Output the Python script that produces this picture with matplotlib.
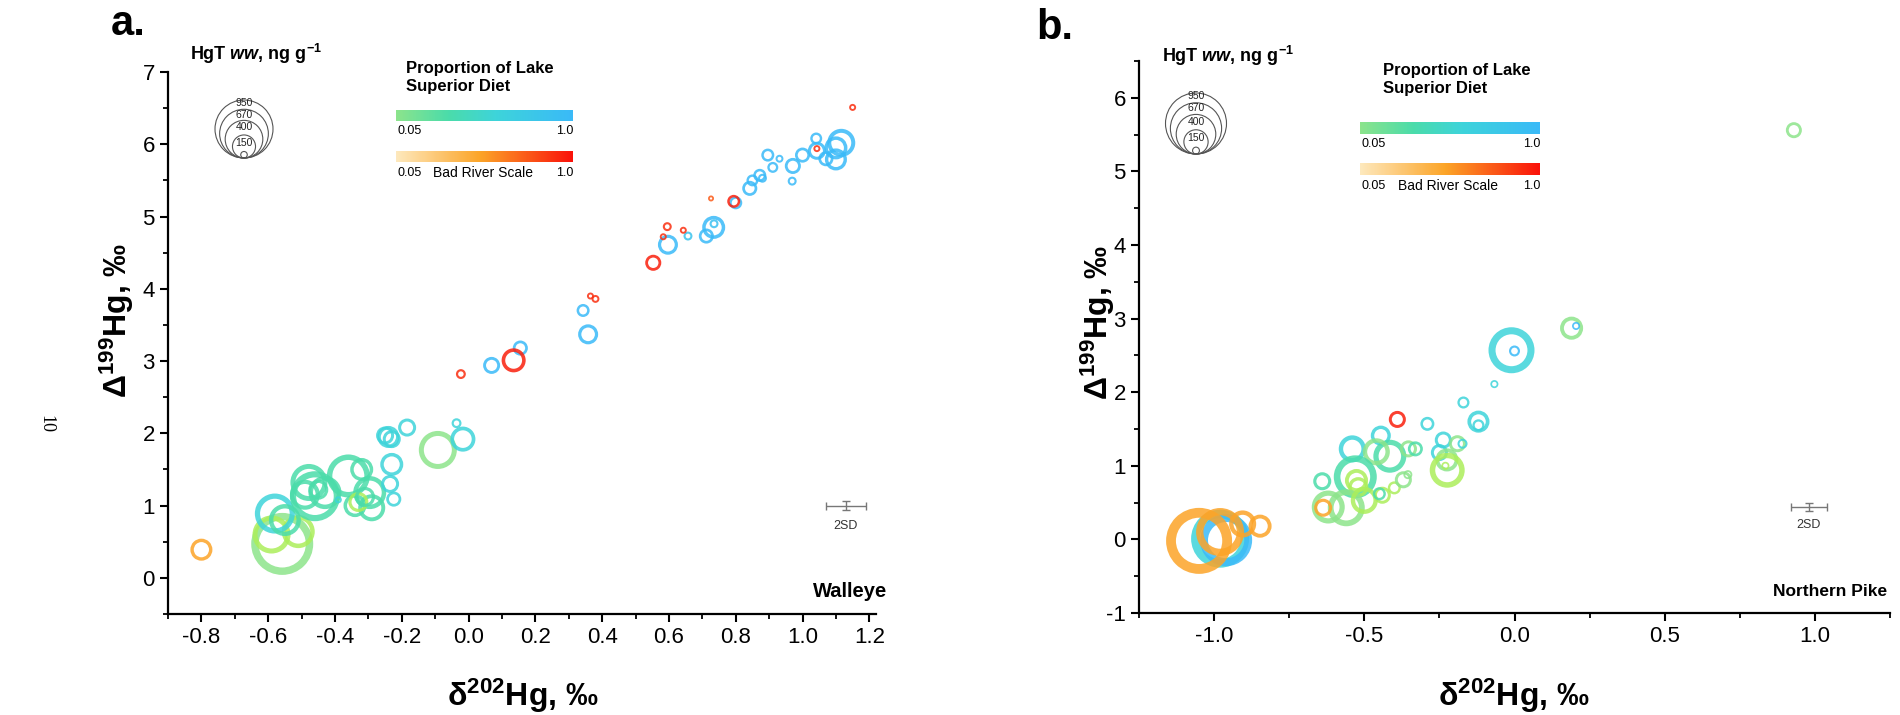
import numpy as np
import matplotlib.pyplot as plt
from matplotlib import font_manager
from matplotlib.colors import LinearSegmentedColormap
from matplotlib.patches import Circle
from matplotlib.ticker import MultipleLocator, FuncFormatter

# ---------------- data: panel a, Walleye ----------------
wal_d202 = [-0.80, -0.558, -0.59, -0.51, -0.58, -0.55, -0.478, -0.46, -0.43, -0.49,
            -0.45, -0.36, -0.32, -0.39, -0.296, -0.29, -0.34, -0.33, -0.31, -0.23,
            -0.235, -0.224, -0.24, -0.23, -0.25, -0.184, -0.092, -0.017, -0.036, -0.023,
            0.069, 0.135, 0.155, 0.358, 0.343, 0.365, 0.38, 0.553, 0.597, 0.583,
            0.595, 0.643, 0.657, 0.712, 0.734, 0.735, 0.794, 0.80, 0.726, 0.842,
            0.85, 0.872, 0.88, 0.896, 0.911, 0.931, 0.971, 0.969, 1.00, 1.041,
            1.043, 1.07, 1.043, 1.10, 1.116, 1.10, 1.15]
wal_D199 = [0.39, 0.47, 0.60, 0.64, 0.89, 0.80, 1.32, 1.13, 1.18, 1.15,
            1.22, 1.41, 1.50, 1.08, 1.18, 0.97, 1.00, 1.05, 1.12, 1.57,
            1.30, 1.09, 1.95, 1.92, 1.97, 2.08, 1.77, 1.92, 2.14, 2.82,
            2.94, 3.01, 3.18, 3.37, 3.70, 3.90, 3.86, 4.36, 4.61, 4.72,
            4.86, 4.81, 4.73, 4.73, 4.85, 4.90, 5.21, 5.19, 5.25, 5.39,
            5.50, 5.57, 5.53, 5.85, 5.68, 5.80, 5.70, 5.49, 5.85, 6.08,
            5.91, 5.80, 5.94, 5.79, 6.02, 5.95, 6.51]
wal_hgt = [109, 864, 325, 245, 360, 230, 308, 562, 245, 202,
           90, 416, 119, 11, 245, 164, 119, 90, 90, 119,
           73, 51, 109, 73, 73, 73, 325, 141, 22, 22,
           65, 130, 51, 90, 38, 11, 14, 58, 90, 11,
           18, 11, 18, 51, 119, 18, 38, 38, 8, 51,
           32, 38, 18, 38, 27, 14, 58, 18, 51, 32,
           73, 51, 11, 109, 176, 119, 11]
# L = Lake Superior diet scale, B = Bad River scale
wal_src = list("BLLLLLLLLL" "LLLLLLLLLL" "LLLLLLLLLB" "LBLLLBBBLB"
               "BBLLLLBLBL" "LLLLLLLLLL" "LLBLLLB")
wal_prop = [0.50, 0.08, 0.00, 0.00, 0.60, 0.35, 0.35, 0.35, 0.35, 0.35,
            0.35, 0.35, 0.35, 0.60, 0.35, 0.35, 0.35, 0.00, 0.35, 0.60,
            0.60, 0.60, 0.60, 0.60, 0.60, 0.60, 0.08, 0.60, 0.60, 0.90,
            1.00, 0.95, 1.00, 1.00, 1.00, 0.90, 0.90, 0.95, 1.00, 0.90,
            0.90, 0.90, 0.85, 1.00, 1.00, 0.90, 0.95, 1.00, 0.75, 1.00,
            1.00, 1.00, 1.00, 1.00, 1.00, 1.00, 1.00, 1.00, 1.00, 1.00,
            1.00, 1.00, 0.90, 1.00, 1.00, 1.00, 0.90]

# ---------------- data: panel b, Northern Pike ----------------
pike_d202 = [-1.05, -0.98, -0.96, -0.98, -0.905, -0.847, -0.39, -0.29, -0.17, -0.067,
             -0.12, -0.12, -0.237, -0.25, -0.19, -0.173, -0.225, -0.224, -0.23, -0.54,
             -0.445, -0.415, -0.46, -0.353, -0.33, -0.53, -0.526, -0.52, -0.64, -0.62,
             -0.637, -0.56, -0.50, -0.44, -0.45, -0.40, -0.37, -0.355, -0.01, 0.0,
             0.19, 0.205, 0.93]
pike_D199 = [-0.02, 0.01, -0.01, 0.10, 0.21, 0.18, 1.63, 1.57, 1.86, 2.11,
             1.60, 1.55, 1.35, 1.18, 1.30, 1.30, 1.08, 0.94, 1.00, 1.23,
             1.41, 1.13, 1.19, 1.23, 1.23, 0.85, 0.80, 0.71, 0.79, 0.44,
             0.43, 0.43, 0.53, 0.60, 0.62, 0.70, 0.81, 0.88, 2.57, 2.56,
             2.87, 2.90, 5.56]
pike_hgt = [869, 671, 540, 460, 146, 106, 58, 39, 29, 13,
            97, 29, 58, 58, 58, 20, 106, 244, 13, 146,
            80, 217, 146, 58, 45, 369, 106, 80, 65, 217,
            65, 273, 146, 58, 34, 34, 58, 16, 422, 24,
            106, 13, 51]
pike_src = list("BLLBBBBLLL" "LLLLLLLLLL" "LLLLLLLLLL" "BLLLLLLLLL" "LLL")
pike_prop = [0.50, 0.60, 1.00, 0.50, 0.50, 0.50, 0.95, 0.60, 0.60, 0.60,
             0.60, 0.60, 0.60, 0.60, 0.08, 0.60, 0.08, 0.00, 0.00, 0.60,
             0.60, 0.35, 0.08, 0.08, 0.35, 0.35, 0.00, 0.00, 0.35, 0.08,
             0.50, 0.08, 0.00, 0.00, 0.35, 0.00, 0.08, 0.08, 0.60, 1.00,
             0.08, 1.00, 0.08]

legend_hgt = [950, 670, 400, 150, 12]
legend_labels = ["950", "670", "400", "150"]

# ---------------- styling ----------------
W, H = 1900, 715
px_pt = 100 / 72.0

names = {f.name for f in font_manager.fontManager.ttflist}
narrow = "Liberation Sans Narrow" if "Liberation Sans Narrow" in names else "Liberation Sans"
plt.rcParams['font.family'] = ['Liberation Sans', 'DejaVu Sans']
plt.rcParams['axes.unicode_minus'] = False
plt.rcParams['mathtext.fontset'] = 'custom'
plt.rcParams['mathtext.rm'] = 'Liberation Sans:bold'
plt.rcParams['mathtext.it'] = 'Liberation Sans:italic:bold'
plt.rcParams['mathtext.bf'] = 'Liberation Sans:bold'

ls_cmap = LinearSegmentedColormap.from_list("ls", [
    (0.00, (172/255, 238/255, 90/255)),
    (0.08, (140/255, 228/255, 140/255)),
    (0.35, (75/255, 220/255, 170/255)),
    (0.60, (62/255, 212/255, 218/255)),
    (1.00, (58/255, 186/255, 248/255))])
br_cmap = LinearSegmentedColormap.from_list("br", [
    (0.00, (254/255, 240/255, 205/255)),
    (0.50, (252/255, 165/255, 40/255)),
    (1.00, (250/255, 18/255, 10/255))])


def fx(px):
    return px / W


def fy(py):
    return 1 - py / H


def ring_sizes(hgt, dmax, k, t0):
    d = dmax * np.sqrt(np.asarray(hgt, float) / 950.0)
    t = k * d + t0
    return ((d - t) / px_pt) ** 2, t / px_pt


def draw_points(ax, xs, ys, hgt, src, prop, dmax, k, t0):
    xs, ys = np.array(xs), np.array(ys)
    s, lw = ring_sizes(hgt, dmax, k, t0)
    src = np.array(src)
    prop = np.array(prop)
    for code, cmap in (("L", ls_cmap), ("B", br_cmap)):
        m = src == code
        cols = [cmap(p) for p in prop[m]]
        ax.scatter(xs[m], ys[m], s=s[m], facecolors='none', edgecolors=cols,
                   linewidths=lw[m], alpha=0.85, zorder=3, clip_on=False)


def tick_fmt(v, pos):
    txt = f"{v:.1f}"
    return "0.0" if txt == "-0.0" else txt


def style_axes(ax):
    for sp in ("top", "right"):
        ax.spines[sp].set_visible(False)
    for sp in ("left", "bottom"):
        ax.spines[sp].set_linewidth(1.6)
    ax.xaxis.set_major_formatter(FuncFormatter(tick_fmt))
    ax.tick_params(which='major', length=6, width=1.5, direction='out', labelsize=16)
    ax.tick_params(which='minor', length=3.5, width=1.3, direction='out')
    for lab in ax.get_xticklabels():
        lab.set_family([narrow, 'Liberation Sans'])


def bubble_legend(cx, bottom, dmax, title_x, title_y):
    fig.text(fx(title_x), fy(title_y), r"HgT $ww$, ng g$^{-1}$", fontsize=13,
             fontweight='bold', ha='center', va='center')
    for v in legend_hgt:
        r = dmax * np.sqrt(v / 950.0) / 2
        fig.add_artist(Circle((cx / 100, (H - (bottom - r)) / 100), r / 100,
                              transform=fig.dpi_scale_trans, fill=False,
                              lw=0.8, ec='#555555'))
    for lab, f in zip(legend_labels, [0.95, 0.75, 0.53, 0.26]):
        fig.text(fx(cx), fy(bottom - dmax * f), lab, fontsize=7.5,
                 ha='center', va='center', color='#222222')


def gradient_bar(x0, y0, w, h, cmap, v0):
    bax = fig.add_axes([fx(x0), fy(y0 + h), w / W, h / H])
    grad = np.linspace(v0, 1, 256)[None, :]
    bax.imshow(grad, aspect='auto', cmap=cmap, vmin=0, vmax=1)
    bax.set_axis_off()


def color_legends(x0, top, w, h, tx, ty):
    fig.text(fx(tx), fy(ty), "Proportion of Lake", fontsize=12,
             fontweight='bold', ha='left', va='center')
    fig.text(fx(tx), fy(ty + 18), "Superior Diet", fontsize=12,
             fontweight='bold', ha='left', va='center')
    gradient_bar(x0, top, w, h, ls_cmap, 0.08)
    gradient_bar(x0, top + 41, w, h, br_cmap, 0.05)
    fig.text(fx(x0 + 2), fy(top + h + 10), "0.05", fontsize=9, ha='left', va='center')
    fig.text(fx(x0 + w), fy(top + h + 10), "1.0", fontsize=9, ha='right', va='center')
    fig.text(fx(x0 + 2), fy(top + 41 + h + 11), "0.05", fontsize=9, ha='left', va='center')
    fig.text(fx(x0 + w), fy(top + 41 + h + 11), "1.0", fontsize=9, ha='right', va='center')
    fig.text(fx(x0 + w * 0.49), fy(top + 41 + h + 11), "Bad River Scale", fontsize=10,
             ha='center', va='center')


fig = plt.figure(figsize=(W / 100, H / 100), dpi=100)

# ---------------- panel a ----------------
ax_a = fig.add_axes([fx(168), fy(614), (876 - 168) / W, (614 - 72) / H])
ax_a.set_xlim(-0.9, 1.22)
ax_a.set_ylim(-0.5, 7)
ax_a.set_xticks(np.round(np.arange(-0.8, 1.21, 0.2), 1))
ax_a.xaxis.set_minor_locator(MultipleLocator(0.1))
ax_a.yaxis.set_major_locator(MultipleLocator(1))
ax_a.yaxis.set_minor_locator(MultipleLocator(0.5))
style_axes(ax_a)
draw_points(ax_a, wal_d202, wal_D199, wal_hgt, wal_src, wal_prop, 65, 0.10, 1.2)
ax_a.errorbar(1.13, 1.0, xerr=0.06, yerr=0.06, color='#777777', lw=1,
              capsize=3, capthick=1)
ax_a.text(1.13, 0.72, "2SD", fontsize=9, ha='center', va='center', color='#333333')
ax_a.text(1.255, -0.19, "Walleye", fontsize=14.5, fontweight='bold', ha='right',
          va='center', clip_on=False)

# ---------------- panel b ----------------
ax_b = fig.add_axes([fx(1139), fy(613), (1890 - 1139) / W, (613 - 61) / H])
ax_b.set_xlim(-1.25, 1.25)
ax_b.set_ylim(-1, 6.5)
ax_b.xaxis.set_major_locator(MultipleLocator(0.5))
ax_b.xaxis.set_minor_locator(MultipleLocator(0.25))
ax_b.yaxis.set_major_locator(MultipleLocator(1))
ax_b.yaxis.set_minor_locator(MultipleLocator(0.5))
style_axes(ax_b)
draw_points(ax_b, pike_d202, pike_D199, pike_hgt, pike_src, pike_prop, 69, 0.14, 0.6)
ax_b.errorbar(0.98, 0.44, xerr=0.06, yerr=0.06, color='#777777', lw=1,
              capsize=3, capthick=1)
ax_b.text(0.98, 0.19, "2SD", fontsize=9, ha='center', va='center', color='#333333')
ax_b.text(1.24, -0.71, "Northern Pike", fontsize=12.5, fontweight='bold', ha='right',
          va='center', clip_on=False)

# ---------------- axis labels & panel letters ----------------
fig.text(fx(523), fy(696), "δ$^{202}$Hg, ‰", fontsize=23, fontweight='bold',
         ha='center', va='center', family=[narrow, 'Liberation Sans'])
fig.text(fx(1514), fy(696), "δ$^{202}$Hg, ‰", fontsize=23, fontweight='bold',
         ha='center', va='center', family=[narrow, 'Liberation Sans'])
fig.text(fx(117), fy(320), "Δ$^{199}$Hg, ‰", fontsize=23, fontweight='bold',
         ha='center', va='center', rotation=90)
fig.text(fx(1098), fy(322), "Δ$^{199}$Hg, ‰", fontsize=23, fontweight='bold',
         ha='center', va='center', rotation=90)
fig.text(fx(128), fy(24), "a.", fontsize=30, fontweight='bold', ha='center', va='center')
fig.text(fx(1055), fy(28), "b.", fontsize=30, fontweight='bold', ha='center', va='center')
fig.text(fx(46), fy(424), "10", fontsize=13, family='Liberation Serif', rotation=270,
         ha='center', va='center')

# ---------------- legends ----------------
bubble_legend(244, 158, 58, 256, 54)
color_legends(396, 110, 177, 11, 406, 68)
bubble_legend(1196, 154, 61, 1228, 56)
color_legends(1360, 122, 180, 12, 1383, 70)

fig.savefig("out.png", dpi=100)
